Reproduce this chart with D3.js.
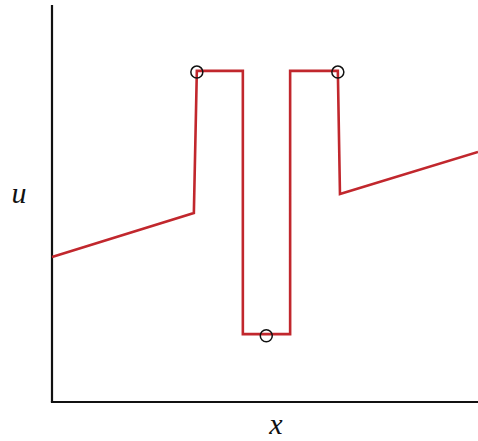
<!DOCTYPE html>
<html>
<head>
<meta charset="utf-8">
<script src="https://cdn.jsdelivr.net/npm/d3@7"></script>
<style>
  html, body { margin: 0; padding: 0; background: #fff; }
  svg { display: block; }
  .axis-label { font-family: "Times New Roman", Tinos, "Liberation Serif", "DejaVu Serif", "Noto Serif", serif; font-style: italic; font-size: 30px; fill: #111; }
</style>
</head>
<body>
<svg id="chart" width="478" height="441"></svg>
<script>
// Piecewise profile u(x): two ramps joined by a pair of rectangular pulses
const xs = [0, 3.33, 3.40, 4.48, 4.48, 5.59, 5.59, 6.71, 6.76, 10];
const us = [3.65, 4.76, 8.34, 8.34, 1.71, 1.71, 8.34, 8.34, 5.24, 6.30];
// Marked sample points
const markX = [3.40, 5.03, 6.71];
const markU = [8.31, 1.67, 8.31];
const axisLabels = ["x", "u"];

const svg = d3.select("#chart");
const x = d3.scaleLinear().domain([0, 10]).range([52, 478]);
const y = d3.scaleLinear().domain([0, 10]).range([402, 5]);

// Axes: plain left and bottom lines, no ticks
svg.append("line")
  .attr("x1", x(0)).attr("x2", x(0))
  .attr("y1", y(10)).attr("y2", y(0))
  .attr("stroke", "#111").attr("stroke-width", 2.2);
svg.append("line")
  .attr("x1", x(0) - 1.1).attr("x2", x(10))
  .attr("y1", y(0)).attr("y2", y(0))
  .attr("stroke", "#111").attr("stroke-width", 2.2);

const pts = xs.map((v, i) => [v, us[i]]);
svg.append("path")
  .datum(pts)
  .attr("d", d3.line().x(d => x(d[0])).y(d => y(d[1])))
  .attr("fill", "none")
  .attr("stroke", "#c1272d")
  .attr("stroke-width", 2.6)
  .attr("stroke-linejoin", "miter");

svg.selectAll("circle.mark")
  .data(markX.map((v, i) => [v, markU[i]]))
  .join("circle")
  .attr("class", "mark")
  .attr("cx", d => x(d[0]))
  .attr("cy", d => y(d[1]))
  .attr("r", 6)
  .attr("fill", "none")
  .attr("stroke", "#111")
  .attr("stroke-width", 1.5);

svg.append("text")
  .attr("class", "axis-label")
  .attr("x", 276).attr("y", 434)
  .attr("text-anchor", "middle")
  .text(axisLabels[0]);
svg.append("text")
  .attr("class", "axis-label")
  .attr("x", 19).attr("y", 203)
  .attr("text-anchor", "middle")
  .text(axisLabels[1]);
</script>
</body>
</html>
